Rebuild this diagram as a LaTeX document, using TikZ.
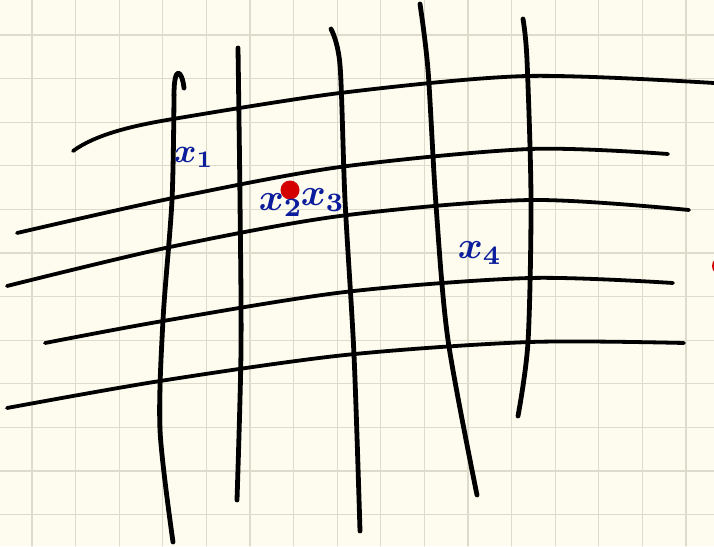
\documentclass[tikz,border=0pt]{standalone}
\definecolor{paper}{HTML}{FDFCEE}
\definecolor{gridgray}{HTML}{DDDBCB}
\definecolor{inkblue}{HTML}{0B1C9C}
\definecolor{dotred}{HTML}{D40000}
\begin{document}
\begin{tikzpicture}[x=1pt,y=-1pt,line cap=round,line join=round,
  gridline/.style={draw=gridgray,line width=1.1pt},
  hstroke/.style={line width=3.8pt},
  vstroke/.style={line width=4.8pt},
  ink/.style={text=inkblue,inner sep=0pt,font=\boldmath}]
  % paper and squared grid
  \fill[paper] (0,0) rectangle (714,546);
  \useasboundingbox (0,0) rectangle (714,546);
  \clip (0,0) rectangle (714,546);
  \foreach \k in {0,...,15}{\draw[gridline] (32+43.6*\k,0)--(32+43.6*\k,546);}
  \foreach \k in {0,...,11}{\draw[gridline] (0,35+43.6*\k)--(714,35+43.6*\k);}
  % horizontal strokes
  \draw[hstroke] (73,151) .. controls (95,135) and (130,126) .. (173,119);
  \draw[hstroke] plot[smooth] coordinates
    {(173,119) (340,93) (527,76) (714,83)};
  \draw[hstroke] plot[smooth] coordinates
    {(17,233) (173,198) (340,167) (530,149) (668,154)};
  \draw[hstroke] plot[smooth] coordinates
    {(7,286) (170,247) (340,216) (530,200) (689,210)};
  \draw[hstroke] plot[smooth] coordinates
    {(45,343) (163,321) (345,292) (530,278) (673,283)};
  \draw[hstroke] plot[smooth] coordinates
    {(7,408) (160,381) (345,355) (530,342) (684,343)};
  % vertical strokes
  \draw[vstroke] (184,88) .. controls (182,70) and (174,64) .. (174,95);
  \draw[vstroke] plot[smooth] coordinates
    {(174,95) (172,200) (163,320) (160,430) (173,542)};
  \draw[vstroke] plot[smooth] coordinates
    {(238,48) (240,200) (241,350) (237,500)};
  \draw[vstroke] plot[smooth] coordinates
    {(331,29) (340,65) (345,200) (354,355) (360,531)};
  \draw[vstroke] plot[smooth] coordinates
    {(420,4) (428,70) (436,205) (448,340) (477,495)};
  \draw[vstroke] plot[smooth] coordinates
    {(523,19) (527,60) (531,200) (528,342) (518,416)};
  % points and labels
  \fill[dotred] (290,190) circle[radius=9.5];
  \fill[dotred] (721,266) circle[radius=9];
  \node[ink] (lblone) at (194,157) {\scalebox{3.4}{$x_1$}};
  \node[ink] (lbltwo) at (281,205) {\scalebox{3.8}{$x_2$}};
  \node[ink] (lblthree) at (323,200) {\scalebox{3.8}{$x_3$}};
  \node[ink] (lblfour) at (480,253) {\scalebox{3.8}{$x_4$}};
\end{tikzpicture}
\end{document}
